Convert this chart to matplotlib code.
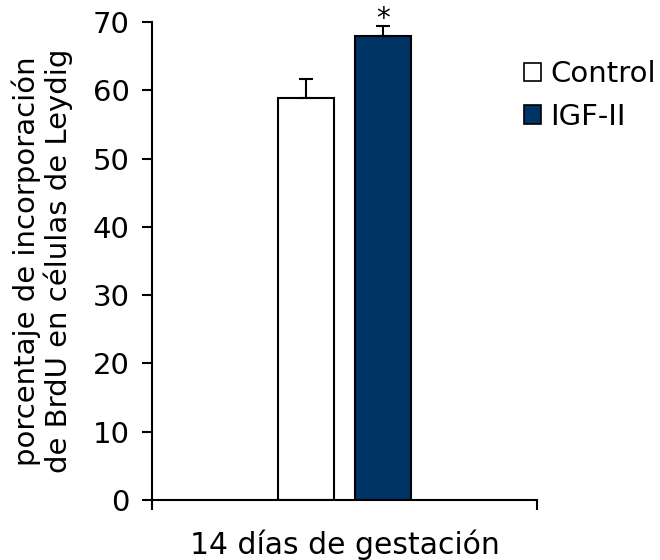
import matplotlib.pyplot as plt

groups = ["Control", "IGF-II"]
values = [58.9, 67.9]
errors = [2.8, 1.5]
colors = ["white", "#003366"]
xlabel = "14 días de gestación"
ylabel = "porcentaje de incorporación\nde BrdU en células de Leydig"

fig = plt.figure(figsize=(6.6, 5.6), dpi=100)
ax = fig.add_axes([0.2303, 0.1071, 0.5833, 0.8536])

positions = [0.4, 0.6]
for pos, val, err, col, name in zip(positions, values, errors, colors, groups):
    ax.bar(pos, val, width=0.145, color=col, edgecolor="black", linewidth=1.5, label=name, zorder=2)
    ax.errorbar(pos, val, yerr=[[0], [err]], fmt="none", ecolor="black",
                elinewidth=1.5, capsize=5, capthick=1.5, zorder=3)

ax.text(positions[1], values[1] + errors[1] - 1.0, "*", ha="center", va="bottom", fontsize=20)

ax.set_xlim(0, 1)
ax.set_ylim(0, 70)
ax.set_yticks(range(0, 71, 10))
ax.set_xticks([0, 1])
ax.set_xticklabels(["", ""])
ax.tick_params(axis="y", direction="out", length=7, width=1.5, labelsize=21, pad=9)
ax.tick_params(axis="x", direction="out", length=7, width=1.5)
for side in ["top", "right"]:
    ax.spines[side].set_visible(False)
for side in ["left", "bottom"]:
    ax.spines[side].set_linewidth(1.5)

ax.set_xlabel(xlabel, fontsize=21.5, labelpad=11)
ax.set_ylabel(ylabel, fontsize=21, labelpad=14, linespacing=1.1)

leg = ax.legend(loc="upper left", bbox_to_anchor=(0.966, 0.92), frameon=False,
                borderaxespad=0, borderpad=0,
                fontsize=21, handlelength=0.6, handleheight=0.6, handletextpad=0.3,
                labelspacing=0.5)
for h in leg.legend_handles:
    h.set_linewidth(1.2)

fig.savefig("out.png", dpi=100)
